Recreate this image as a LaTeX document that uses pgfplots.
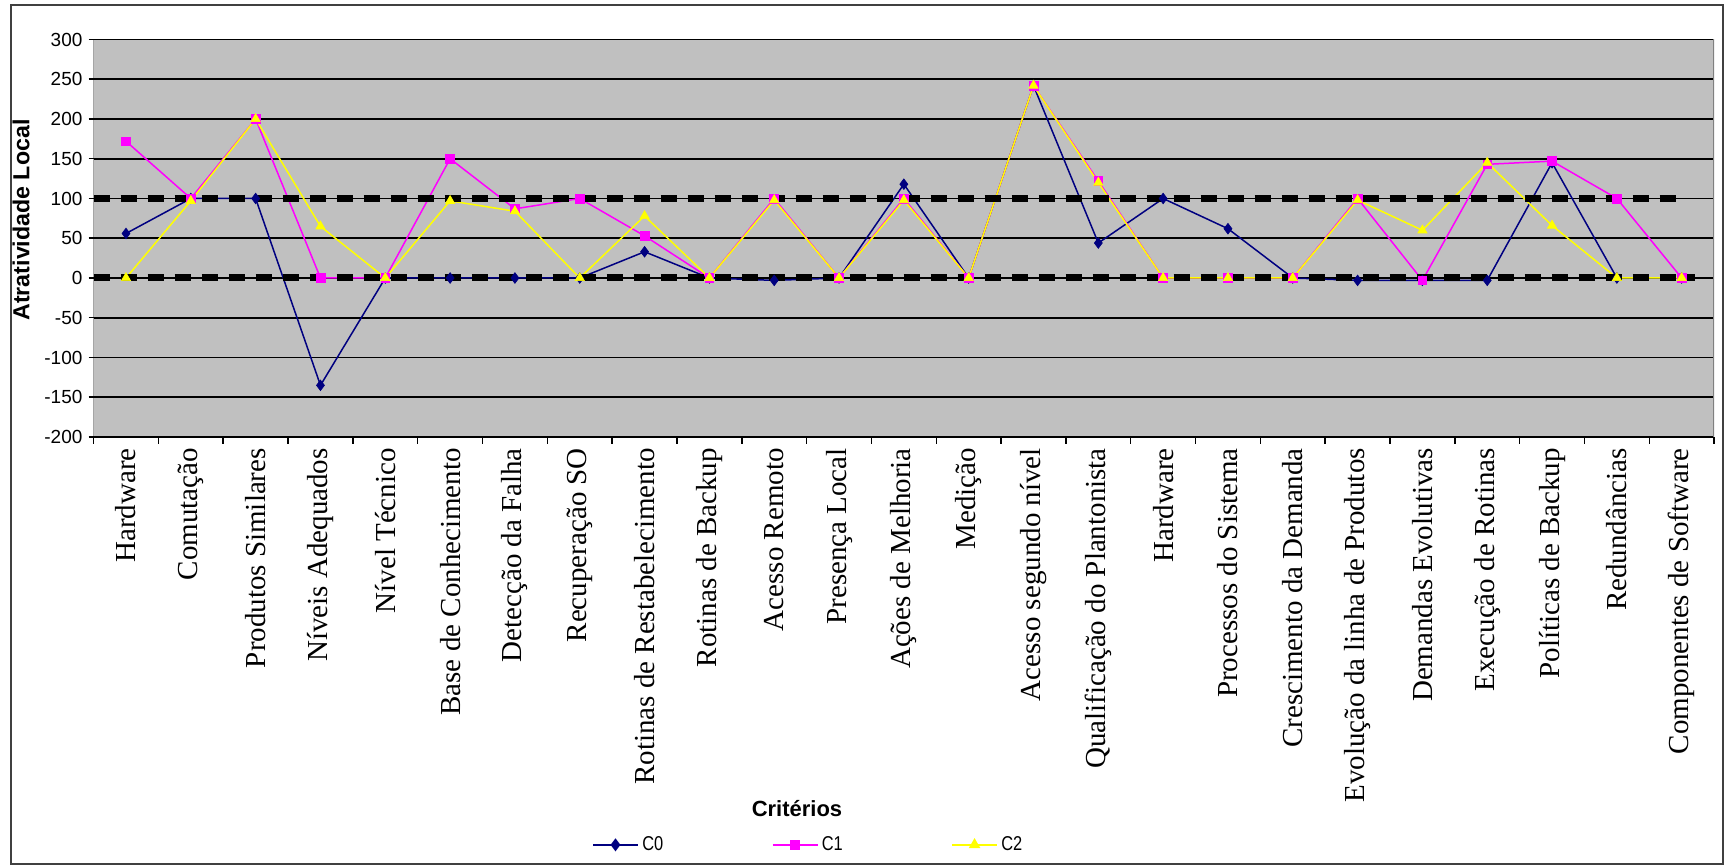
\documentclass[border=0pt]{standalone}
\usepackage{pgfplots}
\pgfplotsset{compat=1.18}
\usepackage{pgfplotstable}
\usepackage{fontspec}
\setmainfont{Liberation Serif}
\newfontfamily\arial{Liberation Sans}
\newfontfamily\arialn[FakeStretch=0.82]{Liberation Sans}
\definecolor{plotgray}{RGB}{192,192,192}
\definecolor{cnavy}{RGB}{0,0,128}
\definecolor{cmag}{RGB}{255,0,255}
\definecolor{cyel}{RGB}{255,255,0}

\pgfplotstableread{
x C0 C1 C2
1 56 172 0
2 100 100 97
3 100 200 200
4 -135 0 65
5 0 0 0
6 0 150 97
7 0 87 84
8 0 100 0
9 33 53 78
10 0 0 0
11 -3 100 98
12 0 0 0
13 118 100 98
14 0 0 0
15 242 242 242
16 44 122 120
17 100 0 0
18 62 0 0
19 0 0 0
20 -3 100 98
21 -3 -3 60
22 -3 143 145
23 145 147 66
24 0 100 0
25 0 0 0
}\datatable

\begin{document}
\begin{tikzpicture}
\useasboundingbox (0,0) rectangle (34.52cm,17.32cm);
\draw[line width=0.04cm, color=black!75] (0.22cm,0.04cm) rectangle (34.46cm,17.22cm);
\begin{axis}[
  at={(1.872cm,8.58cm)}, anchor=south west,
  scale only axis, width=32.41cm, height=7.95cm,
  xmin=0.5, xmax=25.5, ymin=-200, ymax=300,
  ytick={-200,-150,...,300},
  ymajorgrids, grid style={black, line width=0.035cm},
  axis background/.style={fill=plotgray},
  axis line style={draw=none},
  tick align=outside,
  xtick pos=lower, ytick pos=left,
  major tick length=0.1cm,
  minor tick length=0.14cm,
  tick style={black, line width=0.03cm},
  xtick={1,...,25},
  every major x tick/.append style={draw=none},
  minor xtick={0.5,1.5,...,25.5},
  xticklabels={Hardware,Comutação,Produtos Similares,Níveis Adequados,Nível Técnico,Base de Conhecimento,Detecção da Falha,Recuperação SO,Rotinas de Restabelecimento,Rotinas de Backup,Acesso Remoto,Presença Local,Ações de Melhoria,Medição,Acesso segundo nível,Qualificação do Plantonista,Hardware,Processos do Sistema,Crescimento da Demanda,Evolução da linha de Produtos,Demandas Evolutivas,Execução de Rotinas,Políticas de Backup,Redundâncias,Componentes de Software},
  xticklabel style={rotate=90, anchor=east, font=\fontsize{16.5}{18}\selectfont},
  yticklabel style={font=\arial\fontsize{10.8}{12}\selectfont},
  /pgf/number format/assume math mode=true,
  legend style={at={(0.4415,-1.026)}, anchor=center, draw=none, fill=none,
    font=\arialn\fontsize{11.4}{13}\selectfont,
    /tikz/every even column/.append style={column sep=2.1cm}},
  legend columns=3,
  legend image code/.code={\draw[mark repeat=2,mark phase=2] plot coordinates {(0cm,0cm) (0.45cm,0cm) (0.9cm,0cm)};},
]
% series lines
\addplot[cnavy, line width=0.03cm, forget plot] table[x=x,y=C0] {\datatable};
\addplot[cmag, line width=0.03cm, forget plot] table[x=x,y=C1] {\datatable};
\addplot[cyel, line width=0.03cm, forget plot] table[x=x,y=C2] {\datatable};
% thick dashed reference lines
\addplot[black, line width=0.14cm, dash pattern=on 0.32cm off 0.22cm, forget plot] coordinates {(0.5,100) (25,100)};
\addplot[black, line width=0.14cm, dash pattern=on 0.32cm off 0.22cm, forget plot] coordinates {(0.5,0) (25.2,0)};
% markers
\addplot[only marks, mark=diamond*, mark size=3pt, cnavy, forget plot] table[x=x,y=C0] {\datatable};
\addplot[only marks, mark=square*, mark size=2.5pt, cmag, forget plot] table[x=x,y=C1] {\datatable};
\addplot[only marks, mark=triangle*, mark size=3pt, cyel, forget plot] table[x=x,y=C2] {\datatable};
\draw[black, line width=0.035cm] (rel axis cs:0,0) -- (rel axis cs:0,1);
\draw[black, line width=0.035cm] (rel axis cs:0,0) -- (rel axis cs:1,0);
\draw[gray, line width=0.03cm] (rel axis cs:1,0) -- (rel axis cs:1,1);
\addlegendimage{cnavy, line width=0.03cm, mark=diamond*, mark size=3pt}
\addlegendentry{C0}
\addlegendimage{cmag, line width=0.03cm, mark=square*, mark size=2.5pt}
\addlegendentry{C1}
\addlegendimage{cyel, line width=0.03cm, mark=triangle*, mark size=3pt}
\addlegendentry{C2}
\end{axis}
\node[rotate=90, font=\arial\bfseries\fontsize{13.2}{15}\selectfont] at (0.42cm,12.92cm) {Atratividade Local};
\node[font=\arial\bfseries\fontsize{12.5}{14}\selectfont] at (15.94cm,1.14cm) {Critérios};
\end{tikzpicture}
\end{document}
